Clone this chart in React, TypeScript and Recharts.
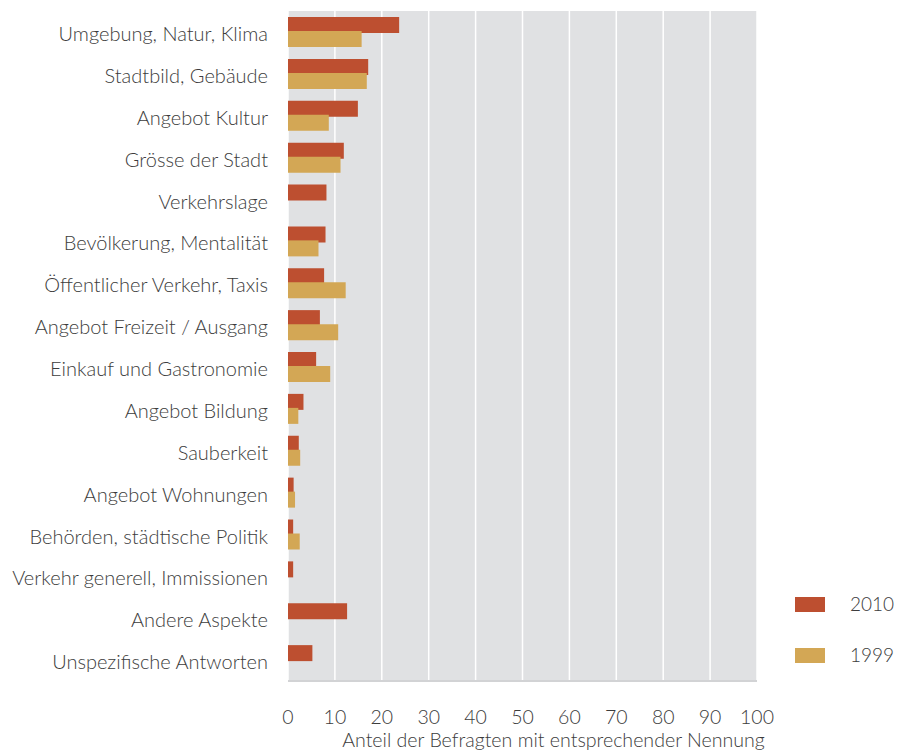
import { BarChart, Bar, XAxis, YAxis, CartesianGrid, Legend } from 'recharts';

const categories = [
  'Umgebung, Natur, Klima',
  'Stadtbild, Gebäude',
  'Angebot Kultur',
  'Grösse der Stadt',
  'Verkehrslage',
  'Bevölkerung, Mentalität',
  'Öffentlicher Verkehr, Taxis',
  'Angebot Freizeit / Ausgang',
  'Einkauf und Gastronomie',
  'Angebot Bildung',
  'Sauberkeit',
  'Angebot Wohnungen',
  'Behörden, städtische Politik',
  'Verkehr generell, Immissionen',
  'Andere Aspekte',
  'Unspezifische Antworten',
];

const values2010 = [23.7, 17.1, 14.9, 11.9, 8.2, 8.0, 7.7, 6.8, 6.0, 3.3, 2.3, 1.2, 1.1, 1.1, 12.6, 5.2];
const values1999 = [15.7, 16.8, 8.7, 11.2, null, 6.5, 12.3, 10.7, 9.0, 2.2, 2.6, 1.5, 2.5, null, null, null];

const xTicks = [0, 10, 20, 30, 40, 50, 60, 70, 80, 90, 100];

const RED = '#bd4f30';
const YELLOW = '#d3a755';
const TEXT = '#3c3c3c';
const FONT = 'Lato, "Open Sans", sans-serif';

const data = categories.map((name, i) => ({
  name,
  y2010: values2010[i],
  y1999: values1999[i],
}));

function SideLegend() {
  const items = [
    { label: '2010', color: RED, top: 597 },
    { label: '1999', color: YELLOW, top: 648 },
  ];
  return (
    <div style={{ position: 'absolute', left: 0, top: 0 }}>
      {items.map((it) => (
        <div key={it.label}>
          <div
            style={{
              position: 'absolute',
              left: 795,
              top: it.top,
              width: 30,
              height: 15,
              background: it.color,
            }}
          />
          <div
            style={{
              position: 'absolute',
              left: 850,
              top: it.top - 5,
              fontFamily: FONT,
              fontWeight: 300,
              fontSize: 19,
              color: TEXT,
              lineHeight: '24px',
            }}
          >
            {it.label}
          </div>
        </div>
      ))}
    </div>
  );
}

export default function App() {
  return (
    <div style={{ position: 'absolute', left: 0, top: 0, width: 909, height: 751 }}>
      <BarChart
        layout="vertical"
        width={909}
        height={751}
        data={data}
        margin={{ top: 11, right: 152, bottom: 6, left: 0 }}
        barSize={16}
        barGap={-2}
      >
        <CartesianGrid horizontal={false} stroke="#ffffff" strokeWidth={1.5} fill="#e0e1e3" />
        <XAxis
          type="number"
          domain={[0, 100]}
          ticks={xTicks}
          interval={0}
          height={64}
          tickLine={false}
          tickSize={0}
          tickMargin={29}
          axisLine={{ stroke: '#d2d3d5', strokeWidth: 2 }}
          tick={{ fill: TEXT, fontSize: 19.5, fontFamily: FONT, fontWeight: 300 }}
          label={{
            value: 'Anteil der Befragten mit entsprechender Nennung',
            position: 'insideBottom',
            offset: -2,
            dx: 31,
            fill: TEXT,
            fontSize: 19.6,
            fontFamily: FONT,
            fontWeight: 300,
          }}
        />
        <YAxis
          type="category"
          dataKey="name"
          width={288}
          interval={0}
          axisLine={false}
          tickLine={false}
          tickSize={0}
          tickMargin={20}
          tick={{ fill: TEXT, fontSize: 20, fontFamily: FONT, fontWeight: 300, dy: 2 }}
        />
        <Legend content={() => null} />
        <Bar dataKey="y2010" name="2010" fill={RED} isAnimationActive={false} />
        <Bar dataKey="y1999" name="1999" fill={YELLOW} isAnimationActive={false} />
      </BarChart>
      <SideLegend />
    </div>
  );
}
